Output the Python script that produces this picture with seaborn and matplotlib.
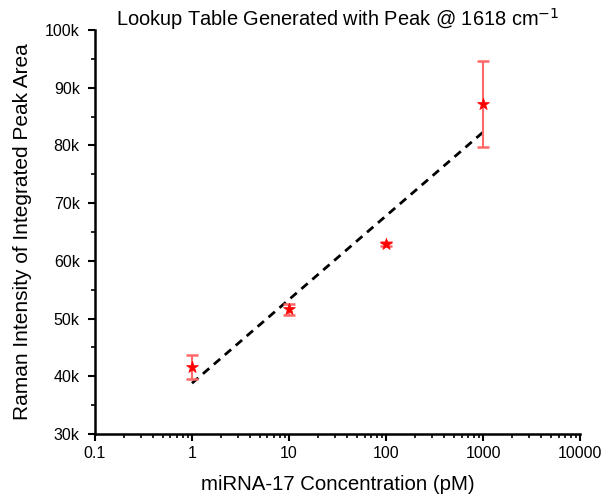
import matplotlib
matplotlib.use("Agg")
import matplotlib.pyplot as plt
import matplotlib.ticker as mticker
import seaborn as sns
import pandas as pd

# Data
concentration = [1, 10, 100, 1000]
intensity = [41600, 51600, 62900, 87200]
error = [2100, 900, 400, 7500]
fit_x = [1, 1000]
fit_y = [38800, 82300]

sns.set_theme(style="ticks")
plt.rcParams['font.family'] = ['Liberation Sans', 'DejaVu Sans']
plt.rcParams['text.color'] = 'black'
plt.rcParams['axes.labelcolor'] = 'black'

fig = plt.figure(figsize=(6.03, 4.95), dpi=100)
ax = fig.add_axes([0.1575, 0.1232, 0.8045, 0.8162])

df = pd.DataFrame({"x": concentration, "y": intensity, "e": error})
fit = pd.DataFrame({"x": fit_x, "y": fit_y})

sns.lineplot(data=fit, x="x", y="y", ax=ax, color="black", linestyle=(0, (3, 2.2)), linewidth=2)
ax.errorbar(df["x"], df["y"], yerr=df["e"], fmt="none", ecolor="#ff6868", elinewidth=1.5,
            capsize=4, capthick=1.8, zorder=3)
sns.scatterplot(data=df, x="x", y="y", ax=ax, marker="*", s=80, color="red",
                edgecolor="red", linewidth=0.5, zorder=4)

ax.set_xscale("log")
ax.set_xlim(0.1, 10000)
ax.set_ylim(30000, 100000)
ax.xaxis.set_major_locator(mticker.LogLocator(base=10))
ax.xaxis.set_minor_locator(mticker.LogLocator(base=10, subs=range(2, 10)))
ax.xaxis.set_major_formatter(mticker.FuncFormatter(lambda v, p: f"{v:g}"))
ax.xaxis.set_minor_formatter(mticker.NullFormatter())
ax.yaxis.set_major_locator(mticker.MultipleLocator(10000))
ax.yaxis.set_minor_locator(mticker.MultipleLocator(5000))
ax.yaxis.set_major_formatter(mticker.FuncFormatter(lambda v, p: f"{int(v/1000)}k"))

for s in ["top", "right"]:
    ax.spines[s].set_visible(False)
for s in ["left", "bottom"]:
    ax.spines[s].set_linewidth(1.8)
    ax.spines[s].set_color("black")
ax.tick_params(which="major", direction="out", length=5, width=1.5, colors="black",
               labelsize=11.5)
ax.tick_params(axis="y", which="major", pad=6)
ax.tick_params(which="minor", direction="out", length=3, width=1.2, colors="black")

ax.set_xlabel("miRNA-17 Concentration (pM)", fontsize=14.7, labelpad=10)
ax.set_ylabel("Raman Intensity of Integrated Peak Area", fontsize=15, labelpad=9)
ax.set_title("Lookup Table Generated with Peak @ 1618 cm$^{-1}$", fontsize=14.4, y=1.0, pad=3)

fig.savefig("out.png", dpi=100)
